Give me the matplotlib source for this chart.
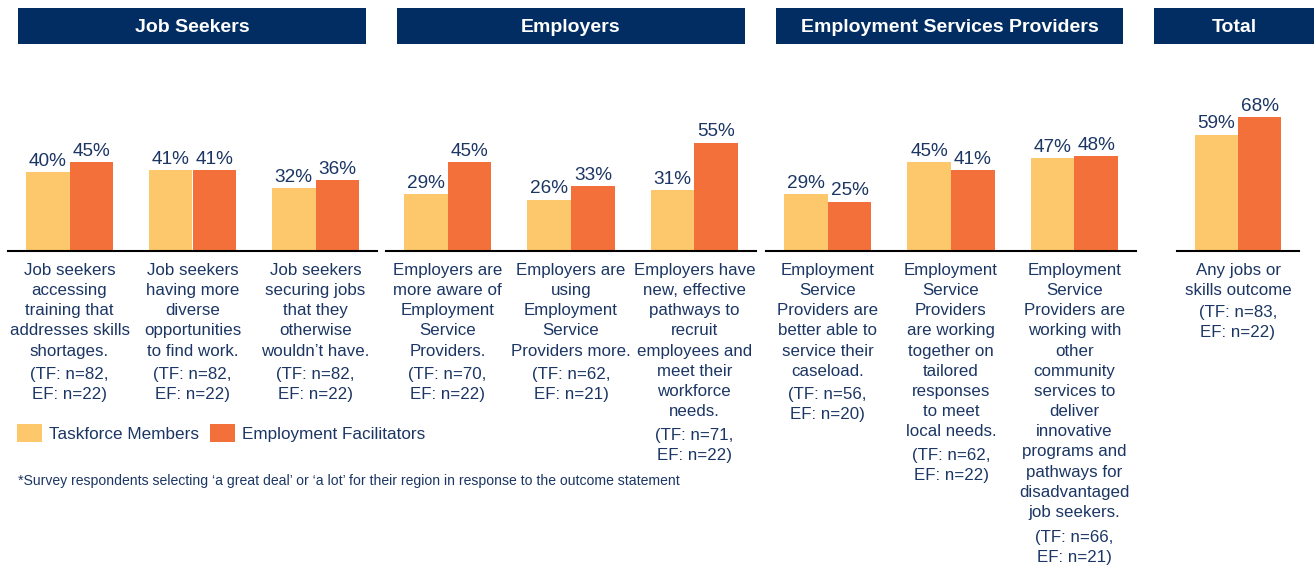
import matplotlib.pyplot as plt
from matplotlib.patches import Rectangle

# data
panels = ['Job Seekers', 'Employers', 'Employment Services Providers', 'Total']

js_labels = ['Job seekers\naccessing\ntraining that\naddresses skills\nshortages.',
             'Job seekers\nhaving more\ndiverse\nopportunities\nto find work.',
             'Job seekers\nsecuring jobs\nthat they\notherwise\nwouldn\u2019t have.']
js_n = ['(TF: n=82,\nEF: n=22)', '(TF: n=82,\nEF: n=22)', '(TF: n=82,\nEF: n=22)']
js_tf = [40, 41, 32]
js_ef = [45, 41, 36]

emp_labels = ['Employers are\nmore aware of\nEmployment\nService\nProviders.',
              'Employers are\nusing\nEmployment\nService\nProviders more.',
              'Employers have\nnew, effective\npathways to\nrecruit\nemployees and\nmeet their\nworkforce\nneeds.']
emp_n = ['(TF: n=70,\nEF: n=22)', '(TF: n=62,\nEF: n=21)', '(TF: n=71,\nEF: n=22)']
emp_tf = [29, 26, 31]
emp_ef = [45, 33, 55]

esp_labels = ['Employment\nService\nProviders are\nbetter able to\nservice their\ncaseload.',
              'Employment\nService\nProviders\nare working\ntogether on\ntailored\nresponses\nto meet\nlocal needs.',
              'Employment\nService\nProviders are\nworking with\nother\ncommunity\nservices to\ndeliver\ninnovative\nprograms and\npathways for\ndisadvantaged\njob seekers.']
esp_n = ['(TF: n=56,\nEF: n=20)', '(TF: n=62,\nEF: n=22)', '(TF: n=66,\nEF: n=21)']
esp_tf = [29, 45, 47]
esp_ef = [25, 41, 48]

total_labels = ['Any jobs or\nskills outcome']
total_n = ['(TF: n=83,\nEF: n=22)']
total_tf = [59]
total_ef = [68]

NAVY = '#012D62'
TEXT = '#1C3664'
TF_COL = '#FDC86B'
EF_COL = '#F4703A'

plt.rcParams['font.family'] = ['Liberation Sans', 'DejaVu Sans']

W, H = 1314, 567
fig = plt.figure(figsize=(W / 100, H / 100), dpi=100)


def fx(x):
    return x / W


def fy(y):
    return 1 - y / H


base = 251
px_per_pct = 1.97
ymax = 70
ax_h = ymax * px_per_pct
pitch = 20.4  # px between label lines

# axes extents (px) and header boxes (px)
axes_px = [(8, 377), (386, 756), (766, 1136), (1177, 1299)]
head_px = [(18, 366), (397, 745), (776, 1123), (1154, 1502)]
groups = [(js_labels, js_n, js_tf, js_ef), (emp_labels, emp_n, emp_tf, emp_ef),
          (esp_labels, esp_n, esp_tf, esp_ef), (total_labels, total_n, total_tf, total_ef)]

bw = 0.354
bars = None
for (x0, x1), (labels, ns, tf, ef) in zip(axes_px, groups):
    n = len(labels)
    ax = fig.add_axes([fx(x0), fy(base), fx(x1 - x0), ax_h / H])
    xs = list(range(n))
    b1 = ax.bar([x - bw / 2 for x in xs], tf, bw, color=TF_COL, label='Taskforce Members')
    b2 = ax.bar([x + bw / 2 for x in xs], ef, bw, color=EF_COL, label='Employment Facilitators')
    bars = (b1, b2)
    for b, v in zip(list(b1) + list(b2), tf + ef):
        ax.text(b.get_x() + b.get_width() / 2, v + 1.2, f'{v}%', ha='center', va='bottom',
                fontsize=13.7, color=TEXT)
    for x, lab, nn in zip(xs, labels, ns):
        top = 12
        ax.annotate(lab, (x, 0), xytext=(0, -top * 0.72), textcoords='offset points',
                    ha='center', va='top', fontsize=12.2, color=TEXT, linespacing=1.43)
        top2 = top + (lab.count('\n') + 1) * pitch + 1.5
        ax.annotate(nn, (x, 0), xytext=(0, -top2 * 0.72), textcoords='offset points',
                    ha='center', va='top', fontsize=12.2, color=TEXT, linespacing=1.43)
    ax.set_xlim(-0.5, n - 0.5)
    ax.set_ylim(0, ymax)
    for s in ['top', 'left', 'right']:
        ax.spines[s].set_visible(False)
    ax.spines['bottom'].set_linewidth(1.5)
    ax.set_xticks([])
    ax.set_yticks([])
    ax.patch.set_visible(False)

for (h0, h1), name in zip(head_px, panels):
    fig.add_artist(Rectangle((fx(h0), fy(44)), fx(h1 - h0), 36 / H, transform=fig.transFigure,
                             facecolor=NAVY, edgecolor='none'))
    xc = (h0 + h1) / 2 if name != 'Total' else 1234
    fig.text(fx(xc), fy(27), name, ha='center', va='center', color='white',
             fontsize=14, fontweight='bold')

fig.legend(handles=list(bars), loc='center left', bbox_to_anchor=(fx(10), fy(433)), ncol=2,
           frameon=False, fontsize=12.3, handlelength=1.5, handleheight=1.2,
           handletextpad=0.4, columnspacing=0.6, labelcolor=TEXT, borderaxespad=0)

fig.text(fx(18), fy(481), '*Survey respondents selecting \u2018a great deal\u2019 or \u2018a lot\u2019 for their region '
         'in response to the outcome statement', ha='left', va='center', fontsize=10.1, color=TEXT)

fig.savefig('out.png', dpi=100)
